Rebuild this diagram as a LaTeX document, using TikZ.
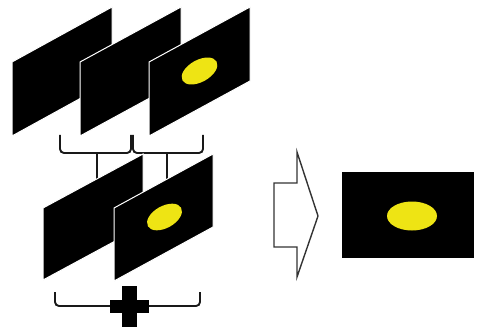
\documentclass[tikz,border=0pt]{standalone}
\definecolor{spotyellow}{RGB}{238,228,20}
\begin{document}
\begin{tikzpicture}[x=1pt,y=-1pt,
  panel/.style={fill=black, draw=white, line width=1pt, line join=miter},
  spot/.style={fill=spotyellow},
  brace/.style={draw=black!90, line width=1.9pt, rounded corners=4pt},
  stem/.style={draw=black!90, line width=1.9pt},
  bigarrow/.style={draw=black!80, line width=1.4pt, fill=white, line join=miter}]
\useasboundingbox (0,0) rectangle (478,331);
% braces of the top row (stems go behind the lower panels)
\draw[brace] (60,135) -- (60,153) -- (131,153) -- (131,135);
\draw[stem] (97,153) -- (97,185);
\draw[brace] (133,135) -- (133,153) -- (203,153) -- (203,135);
\draw[stem] (167,153) -- (167,185);
% top row of panels
\draw[panel] (12,62) -- (112,7) -- (112,81) -- (12,136) -- cycle;
\draw[panel] (80,62) -- (181,7) -- (181,81) -- (80,136) -- cycle;
\draw[panel] (149,62) -- (250,7) -- (250,81) -- (149,136) -- cycle;
\fill[spot, rotate around={29:(199.5,71)}] (199.5,71) ellipse [x radius=19.5, y radius=11];
% lower row of panels
\draw[panel] (43,208) -- (143,154) -- (143,226) -- (43,280) -- cycle;
\draw[panel] (114,208) -- (213,154) -- (213,227) -- (114,281) -- cycle;
\fill[spot, rotate around={29:(164.5,217)}] (164.5,217) ellipse [x radius=19, y radius=11];
% bottom brace with plus
\draw[brace] (55,292) -- (55,306) -- (200,306) -- (200,292);
\fill[black] (122,286) rectangle (137,327);
\fill[black] (110,300) rectangle (149,313);
% big arrow
\draw[bigarrow] (274,183) -- (297,183) -- (297,152) -- (318,216) -- (297,277) -- (297,247) -- (274,247) -- cycle;
% result frame
\fill[black] (342,172) rectangle (474,258);
\fill[spot] (412,216) ellipse [x radius=25, y radius=14.5];
\end{tikzpicture}
\end{document}
